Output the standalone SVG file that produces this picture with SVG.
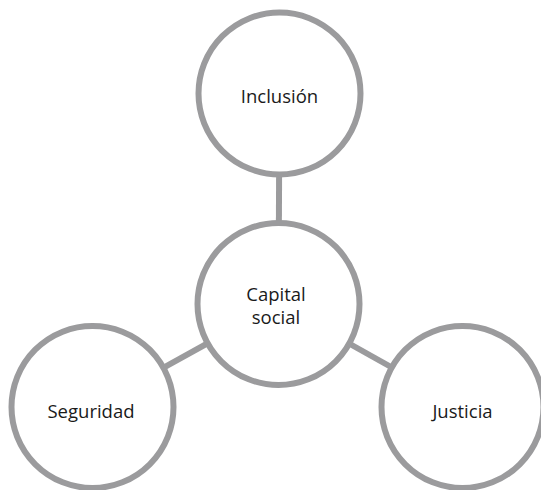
<svg xmlns="http://www.w3.org/2000/svg" width="541" height="490" viewBox="0 0 541 490">
<style>
.node circle{fill:#fff;stroke:#9b9b9d;stroke-width:6}
.conn line{stroke:#9b9b9d;stroke-width:6}
text{font-family:"Open Sans","Noto Sans","Liberation Sans",sans-serif;font-size:18.5px;fill:#1a1a1a;text-anchor:middle}
</style>
<rect width="541" height="490" fill="#fff"/>
<g id="connectors" class="conn">
<line x1="279.5" y1="93.5" x2="278.5" y2="304"/>
<line x1="92.5" y1="407" x2="278.5" y2="304"/>
<line x1="462.5" y1="407" x2="278.5" y2="304"/>
</g>
<g id="inclusion" class="node">
<circle cx="279.5" cy="93.5" r="81"/>
<text x="279.5" y="103">Inclusión</text>
</g>
<g id="capital" class="node">
<circle cx="278.5" cy="304" r="81"/>
<text x="276" y="301">Capital</text>
<text x="276" y="324">social</text>
</g>
<g id="seguridad" class="node">
<circle cx="92.5" cy="407" r="81"/>
<text x="91" y="418">Seguridad</text>
</g>
<g id="justicia" class="node">
<circle cx="462.5" cy="407" r="81"/>
<text x="462.5" y="418">Justicia</text>
</g>
</svg>
